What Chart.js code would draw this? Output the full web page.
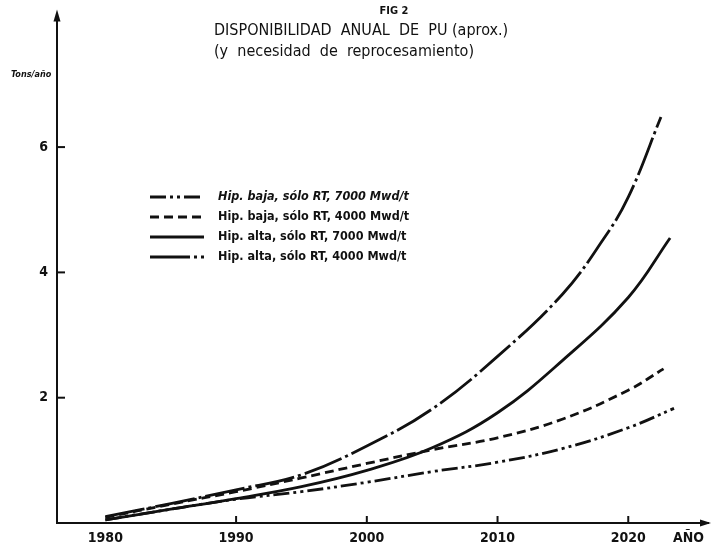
<!DOCTYPE html>
<html>
<head>
<meta charset="utf-8">
<script src="https://cdn.jsdelivr.net/npm/chart.js@4"></script>
<style>
  body { margin: 0; background: #fff; }
  #wrap { width: 711px; height: 551px; position: relative; }
</style>
</head>
<body>
<div id="wrap"><canvas id="grafica"></canvas></div>
<script>
// datos (Tons/año)
const aniosBaja7000 = [1980, 1985, 1990, 1995, 2000, 2005, 2010, 2015, 2020, 2023.5];
const baja7000 = [0.05, 0.22, 0.38, 0.5, 0.65, 0.82, 0.97, 1.19, 1.52, 1.83];

const aniosBaja4000 = [1980, 1985, 1990, 1995, 2000, 2005, 2010, 2015, 2020, 2022.7];
const baja4000 = [0.09, 0.3, 0.5, 0.72, 0.95, 1.17, 1.36, 1.66, 2.12, 2.46];

const aniosAlta7000 = [1980, 1985, 1990, 1995, 2000, 2005, 2010, 2015, 2020, 2023.2];
const alta7000 = [0.05, 0.22, 0.39, 0.58, 0.84, 1.2, 1.76, 2.6, 3.6, 4.55];

const aniosAlta4000 = [1980, 1985, 1990, 1995, 2000, 2005, 2010, 2015, 2018, 2020, 2022.5];
const alta4000 = [0.1, 0.31, 0.53, 0.77, 1.23, 1.82, 2.66, 3.66, 4.5, 5.2, 6.48];

const etiquetas = [
    'Hip. baja, sólo RT, 7000 Mwd/t',
    'Hip. baja, sólo RT, 4000 Mwd/t',
    'Hip. alta, sólo RT, 7000 Mwd/t',
    'Hip. alta, sólo RT, 4000 Mwd/t'
];
const ticksX = [1980, 1990, 2000, 2010, 2020];
const ticksY = [2, 4, 6];

const FUENTE = "'DejaVu Sans Condensed', 'DejaVu Sans', sans-serif";
const NEGRO = '#111';

const pares = (xs, ys) => xs.map((x, i) => ({ x: x, y: ys[i] }));

const series = [
    { label: etiquetas[0], data: pares(aniosBaja7000, baja7000), dash: [16, 4, 3, 4, 3, 4] },
    { label: etiquetas[1], data: pares(aniosBaja4000, baja4000), dash: [9, 5] },
    { label: etiquetas[2], data: pares(aniosAlta7000, alta7000), dash: [] },
    { label: etiquetas[3], data: pares(aniosAlta4000, alta4000), dash: [40, 4, 3, 4] }
];

// textos, marcas de eje, flechas y leyenda
const extras = {
    id: 'extras',
    afterDraw(chart) {
        const ctx = chart.ctx;
        const ca = chart.chartArea;
        const sx = chart.scales.x, sy = chart.scales.y;
        ctx.save();
        ctx.fillStyle = NEGRO;
        ctx.strokeStyle = NEGRO;

        // titulo
        ctx.textBaseline = 'middle';
        ctx.textAlign = 'center';
        ctx.font = 'bold 11px ' + FUENTE;
        ctx.fillText('FIG 2', 394, 11);
        ctx.textAlign = 'left';
        ctx.font = '500 16px ' + FUENTE;
        ctx.fillText('DISPONIBILIDAD  ANUAL  DE  PU (aprox.)', 214, 31, 326);
        ctx.fillText('(y  necesidad  de  reprocesamiento)', 214, 52, 282);

        ctx.font = 'bold italic 9px ' + FUENTE;
        ctx.fillText('Tons/año', 11, 75);
        ctx.font = 'bold 14px ' + FUENTE;
        ctx.fillText('AÑO', 673, 538);

        // marcas hacia dentro
        ctx.lineWidth = 2;
        ticksX.slice(1).forEach(v => {
            const px = sx.getPixelForValue(v);
            ctx.beginPath();
            ctx.moveTo(px, ca.bottom);
            ctx.lineTo(px, ca.bottom - 7);
            ctx.stroke();
        });
        ticksY.forEach(v => {
            const py = sy.getPixelForValue(v);
            ctx.beginPath();
            ctx.moveTo(ca.left, py);
            ctx.lineTo(ca.left + 8, py);
            ctx.stroke();
        });

        // flechas
        ctx.beginPath();
        ctx.moveTo(ca.left, ca.top - 8);
        ctx.lineTo(ca.left - 3.5, ca.top + 4);
        ctx.lineTo(ca.left + 3.5, ca.top + 4);
        ctx.closePath();
        ctx.fill();
        ctx.beginPath();
        ctx.moveTo(ca.right + 3, ca.bottom);
        ctx.lineTo(ca.right - 8, ca.bottom - 3.5);
        ctx.lineTo(ca.right - 8, ca.bottom + 3.5);
        ctx.closePath();
        ctx.fill();

        // leyenda
        chart.data.datasets.forEach((ds, i) => {
            const y = 197 + i * 20;
            ctx.lineWidth = 2.8;
            ctx.setLineDash(ds.borderDash || []);
            ctx.beginPath();
            ctx.moveTo(150, y);
            ctx.lineTo(204, y);
            ctx.stroke();
            ctx.setLineDash([]);
            ctx.font = (i === 0 ? 'italic ' : '') + 'bold 12.5px ' + FUENTE;
            ctx.fillText(ds.label, 218, y, 196);
        });
        ctx.restore();
    }
};

new Chart(document.getElementById('grafica'), {
    type: 'line',
    data: {
        datasets: series.map(s => ({
            label: s.label,
            data: s.data,
            borderColor: NEGRO,
            borderWidth: 2.8,
            borderDash: s.dash,
            pointRadius: 0,
            fill: false,
            tension: 0.4
        }))
    },
    options: {
        responsive: true,
        maintainAspectRatio: false,
        animation: false,
        layout: { padding: { top: 12, right: 3, left: 0, bottom: 0 } },
        plugins: {
            legend: { display: false },
            title: { display: false },
            tooltip: { enabled: false }
        },
        scales: {
            x: {
                type: 'linear',
                min: 1976.3,
                max: 2026.1,
                afterBuildTicks: sc => { sc.ticks = ticksX.map(v => ({ value: v })); },
                afterFit: sc => { sc.height = 28; },
                grid: { display: false, drawTicks: false },
                border: { display: true, color: NEGRO, width: 2 },
                ticks: {
                    padding: 7,
                    color: NEGRO,
                    maxRotation: 0,
                    font: { family: FUENTE, size: 14, weight: 'bold' },
                    callback: v => String(v)
                }
            },
            y: {
                type: 'linear',
                min: 0,
                max: 8.07,
                afterBuildTicks: sc => { sc.ticks = ticksY.map(v => ({ value: v })); },
                afterFit: sc => { sc.width = 57; },
                grid: { display: false, drawTicks: false },
                border: { display: true, color: NEGRO, width: 2 },
                ticks: {
                    padding: 9,
                    color: NEGRO,
                    font: { family: FUENTE, size: 14, weight: 'bold' },
                    callback: v => String(v)
                }
            }
        }
    },
    plugins: [extras]
});
</script>
</body>
</html>
